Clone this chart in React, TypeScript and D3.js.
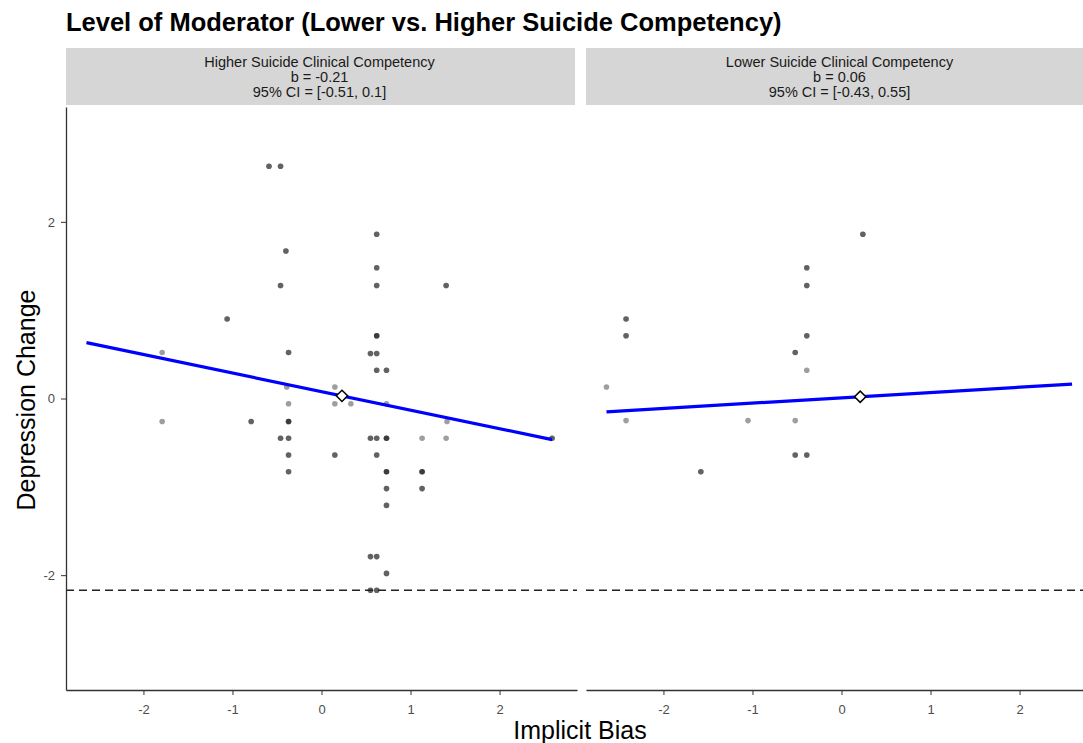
import React, { useRef, useEffect } from 'react';
import * as d3 from 'd3';

const chartTitle = 'Level of Moderator (Lower vs. Higher Suicide Competency)';
const panelNames = ['Higher Suicide Clinical Competency', 'Lower Suicide Clinical Competency'];
const slopeText = ['b = -0.21', 'b = 0.06'];
const ciText = ['95% CI = [-0.51, 0.1]', '95% CI = [-0.43, 0.55]'];

// points per panel; n = how many participants sit on the same spot
const highX = [-0.59, -0.46, -0.40, -0.46, -1.06, -1.79, -0.37, 0.62, 0.62, 0.62, 1.40, 0.62, 0.55, 0.62, 0.62, 0.73,
  0.15, -0.39, -0.37, -1.79, -0.79, -0.37, -0.46, -0.37, -0.37, -0.37, 0.15, 0.33, 0.73, 1.41, 0.55, 0.62, 0.73,
  1.13, 1.40, 0.15, 0.62, 0.73, 1.13, 0.73, 1.13, 0.73, 0.55, 0.62, 0.73, 0.55, 0.62, 2.59];
const highY = [2.63, 2.63, 1.67, 1.28, 0.90, 0.52, 0.52, 1.86, 1.48, 1.28, 1.28, 0.71, 0.51, 0.51, 0.32, 0.32,
  0.13, 0.13, -0.06, -0.26, -0.26, -0.26, -0.45, -0.45, -0.64, -0.83, -0.06, -0.06, -0.06, -0.26, -0.45, -0.45, -0.45,
  -0.45, -0.45, -0.64, -0.64, -0.83, -0.83, -1.02, -1.02, -1.21, -1.79, -1.79, -1.98, -2.17, -2.17, -0.45];
const highN = [2, 2, 2, 2, 2, 1, 2, 2, 2, 2, 2, 3, 2, 2, 2, 2,
  1, 1, 1, 1, 2, 3, 2, 2, 2, 2, 1, 1, 1, 1, 2, 2, 3,
  1, 1, 2, 2, 3, 3, 2, 2, 2, 2, 2, 2, 2, 2, 2];

const lowX = [0.24, -0.39, -0.39, -2.42, -2.42, -0.39, -0.52, -0.39, -2.64, -2.42, -1.05, -0.52, -0.52, -0.39, -1.58];
const lowY = [1.86, 1.48, 1.28, 0.90, 0.71, 0.71, 0.52, 0.32, 0.13, -0.25, -0.25, -0.25, -0.64, -0.64, -0.83];
const lowN = [2, 2, 2, 2, 2, 2, 2, 1, 1, 1, 1, 1, 2, 2, 2];

const slopes = [-0.21, 0.06];
const meanX = [0.23, 0.21];
const meanY = [0.03, 0.02];
const lineRange = [-2.64, 2.59];
const cutoff = -2.17;
const xTicks = [-2, -1, 0, 1, 2];
const yTicks = [-2, 0, 2];

const App = () => {
  const svgRef = useRef();
  const width = 1083, height = 743;
  const top = 107, bottom = 690, stripTop = 48;
  const panelLeft = [66, 586], panelW = 511;

  useEffect(() => {
    const svg = d3.select(svgRef.current);
    svg.selectAll('*').remove();

    const y = d3.scaleLinear().domain([-3.3, 3.3]).range([bottom, top]);
    const sets = [
      { xs: highX, ys: highY, ns: highN },
      { xs: lowX, ys: lowY, ns: lowN },
    ];

    svg.append('text')
      .attr('x', 66).attr('y', 31)
      .attr('font-size', 25.5).attr('font-weight', 'bold')
      .attr('fill', '#000')
      .text(chartTitle);

    sets.forEach((s, i) => {
      const x0 = panelLeft[i];
      const x = d3.scaleLinear().domain([-2.87, 2.87]).range([x0, x0 + panelW]);
      const g = svg.append('g');

      // strip
      g.append('rect')
        .attr('x', x0).attr('y', stripTop)
        .attr('width', panelW - 2).attr('height', top - 2 - stripTop)
        .attr('fill', '#d6d6d6');
      [panelNames[i], slopeText[i], ciText[i]].forEach((t, j) => {
        g.append('text')
          .attr('x', x0 + panelW / 2 - 2).attr('y', 67 + j * 15)
          .attr('text-anchor', 'middle').attr('font-size', 14.5)
          .attr('fill', '#1a1a1a').text(t);
      });

      // points
      const pts = [];
      s.xs.forEach((v, k) => { for (let r = 0; r < s.ns[k]; r++) pts.push([v, s.ys[k]]); });
      g.append('g').selectAll('circle').data(pts).join('circle')
        .attr('cx', d => x(d[0])).attr('cy', d => y(d[1]))
        .attr('r', 2.8).attr('fill', '#000').attr('fill-opacity', 0.38);

      // cutoff line
      g.append('line')
        .attr('x1', x0).attr('x2', x0 + panelW)
        .attr('y1', y(cutoff)).attr('y2', y(cutoff))
        .attr('stroke', '#222').attr('stroke-width', 1.6)
        .attr('stroke-dasharray', '8,5');

      // regression line
      const fit = (v) => meanY[i] + slopes[i] * (v - meanX[i]);
      g.append('path')
        .datum(lineRange)
        .attr('d', d3.line().x(d => x(d)).y(d => y(fit(d))))
        .attr('fill', 'none').attr('stroke', '#0000ff').attr('stroke-width', 3.2);

      g.append('path')
        .attr('transform', `translate(${x(meanX[i])},${y(meanY[i])}) rotate(45)`)
        .attr('d', d3.symbol(d3.symbolSquare, 64)())
        .attr('fill', '#fff').attr('stroke', '#000').attr('stroke-width', 1.5);

      // x axis
      const xa = g.append('g').attr('transform', `translate(0,${bottom})`)
        .call(d3.axisBottom(x).tickValues(xTicks).tickSize(5).tickSizeOuter(0));
      xa.select('.domain').attr('stroke', '#333').attr('stroke-width', 1.3);
      xa.selectAll('.tick line').attr('stroke', '#333');
      xa.selectAll('.tick text').attr('font-size', 13).attr('fill', '#4d4d4d')
        .attr('font-family', 'Liberation Sans, Arial, sans-serif').attr('dy', '1em').attr('y', 11)
        .text(d => (d < 0 ? '-' + Math.abs(d) : d));

      if (i === 0) {
        const ya = g.append('g').attr('transform', `translate(${x0},0)`)
          .call(d3.axisLeft(y).tickValues(yTicks).tickSize(5).tickSizeOuter(0));
        ya.select('.domain').attr('stroke', '#333').attr('stroke-width', 1.3);
        ya.selectAll('.tick line').attr('stroke', '#333');
        ya.selectAll('.tick text').attr('font-size', 13).attr('fill', '#4d4d4d')
          .attr('font-family', 'Liberation Sans, Arial, sans-serif').attr('x', -11)
          .text(d => (d < 0 ? '-' + Math.abs(d) : d));
      }
    });

    svg.append('text')
      .attr('x', 580).attr('y', 739)
      .attr('text-anchor', 'middle').attr('font-size', 25)
      .text('Implicit Bias');

    svg.append('text')
      .attr('transform', 'translate(35,400) rotate(-90)')
      .attr('text-anchor', 'middle').attr('font-size', 25)
      .text('Depression Change');
  }, []);

  return (
    <svg ref={svgRef} width={width} height={height}
      style={{ position: 'absolute', left: 0, top: 0, background: '#fff', fontFamily: 'Liberation Sans, Arial, sans-serif' }} />
  );
};

export default App;
